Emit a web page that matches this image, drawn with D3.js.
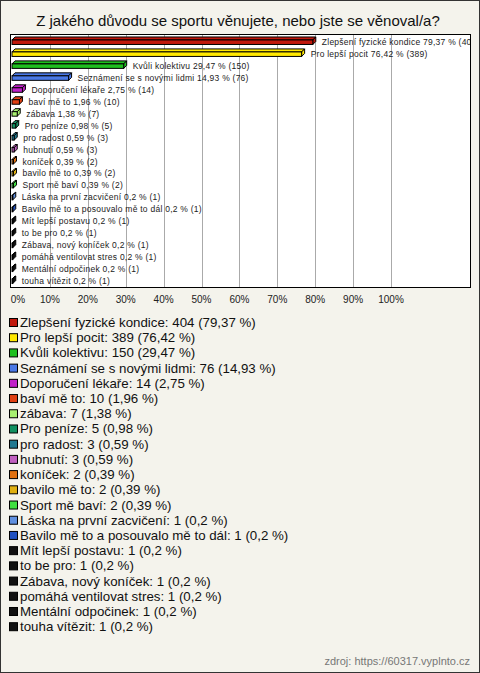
<!DOCTYPE html>
<html><head><meta charset="utf-8">
<script src="https://cdn.jsdelivr.net/npm/d3@7"></script>
<style>body{margin:0;background:#f4f3ec;}svg{display:block;font-family:"Liberation Sans",Arial,sans-serif;}</style>
</head><body>
<svg id="c" width="480" height="673"></svg>
<script>
const categories = ["Zlepšení fyzické kondice","Pro lepší pocit","Kvůli kolektivu","Seznámení se s novými lidmi","Doporučení lékaře","baví mě to","zábava","Pro peníze","pro radost","hubnutí","koníček","bavilo mě to","Sport mě baví","Láska na první zacvičení","Bavilo mě to a posouvalo mě to dál","Mít lepší postavu","to be pro","Zábava, nový koníček","pomáhá ventilovat stres","Mentální odpočinek","touha vítězit"];
const counts = [404,389,150,76,14,10,7,5,3,3,2,2,2,1,1,1,1,1,1,1,1];
const percents = [79.37,76.42,29.47,14.93,2.75,1.96,1.38,0.98,0.59,0.59,0.39,0.39,0.39,0.2,0.2,0.2,0.2,0.2,0.2,0.2,0.2];
const colors = ["#c0180c","#ffe800","#1fbf1f","#4a78e6","#c020c8","#e04012","#a8f070","#109060","#207890","#c060c0","#e07010","#e0b010","#40e040","#6090e0","#2050c0","#111","#111","#111","#111","#111","#111"];
const tickValues = [0,10,20,30,40,50,60,70,80,90,100];
const title = "Z jakého důvodu se sportu věnujete, nebo jste se věnoval/a?";
const source = "zdroj: https://60317.vyplnto.cz";

const fmt = v => String(v).replace(".", ",");
const svg = d3.select("#c");
const W = 480, H = 673;
svg.append("rect").attr("x",0.5).attr("y",0.5).attr("width",W-1).attr("height",H-1).attr("fill","#f4f3ec").attr("stroke","#333");

svg.append("text").attr("x",238).attr("y",26).attr("text-anchor","middle").attr("font-size",15).attr("fill","#111").text(title);

const plot = {l:10.5, r:470.5, t:34.5, b:287.5};
const x = d3.scaleLinear().domain([0,100]).range([12,391]);
const y = d3.scaleBand().domain(categories).range([35,286]).padding(0);

svg.append("rect").attr("x",plot.l).attr("y",plot.t).attr("width",plot.r-plot.l).attr("height",plot.b-plot.t).attr("fill","#fff");
svg.append("g").selectAll("line").data(tickValues.slice(1)).join("line")
  .attr("x1",d=>Math.round(x(d))+0.5).attr("x2",d=>Math.round(x(d))+0.5)
  .attr("y1",plot.t).attr("y2",plot.b).attr("stroke","#aaa").attr("stroke-width",1);

const defs = svg.append("defs");
defs.append("clipPath").attr("id","pc").append("rect").attr("x",plot.l).attr("y",plot.t).attr("width",plot.r-plot.l).attr("height",plot.b-plot.t);

const d = 3;
const data = categories.map((c,i)=>({c, n:counts[i], p:percents[i], col:colors[i]}));
const g = svg.append("g").attr("clip-path","url(#pc)");
const rows = g.selectAll("g.row").data(data).join("g").attr("class","row");
rows.each(function(r){
  const s = d3.select(this);
  const c = y(r.c) + y.bandwidth()/2;
  const x0 = x(0), x1 = x(r.p);
  const yt = c-1, yb = c+3.5;
  const top = `M${x0},${yt} L${x0+d},${yt-d} L${x1+d},${yt-d} L${x1},${yt} Z`;
  const side = `M${x1},${yt} L${x1+d},${yt-d} L${x1+d},${yb-d} L${x1},${yb} Z`;
  s.append("path").attr("d",top).attr("fill",r.col).attr("stroke","#000").attr("stroke-width",1);
  s.append("path").attr("d",side).attr("fill",r.col).attr("stroke","#000").attr("stroke-width",1);
  s.append("rect").attr("x",x0).attr("y",yt).attr("width",Math.max(0,x1-x0)).attr("height",yb-yt)
    .attr("fill",r.col).attr("stroke","#000").attr("stroke-width",1);
  s.append("text").attr("x",x1+9).attr("y",c+4).attr("font-size",8.5).attr("letter-spacing",0.25).attr("fill","#222")
    .text(`${r.c} ${fmt(r.p)} % (${r.n})`);
});
svg.append("rect").attr("x",plot.l).attr("y",plot.t).attr("width",plot.r-plot.l).attr("height",plot.b-plot.t).attr("fill","none").attr("stroke","#000");

svg.append("g").selectAll("text").data(tickValues).join("text")
  .attr("x",d=> d===0 ? x(d)+6 : x(d)).attr("y",303).attr("text-anchor","middle")
  .attr("font-size",10).attr("fill","#222").text(d=>d+"%");

const lg = svg.append("g");
const ly = i => 327 + i*15.21;
lg.selectAll("rect").data(data).join("rect")
  .attr("x",9.5).attr("y",(r,i)=>ly(i)-8.5).attr("width",8).attr("height",8)
  .attr("fill",r=>r.col).attr("stroke","#000");
lg.selectAll("text").data(data).join("text")
  .attr("x",20).attr("y",(r,i)=>ly(i)).attr("font-size",13.3).attr("fill","#111")
  .text(r=>`${r.c}: ${r.n} (${fmt(r.p)} %)`);

svg.append("text").attr("x",470).attr("y",665).attr("text-anchor","end").attr("font-size",11).attr("fill","#777").text(source);
</script>
</body></html>
